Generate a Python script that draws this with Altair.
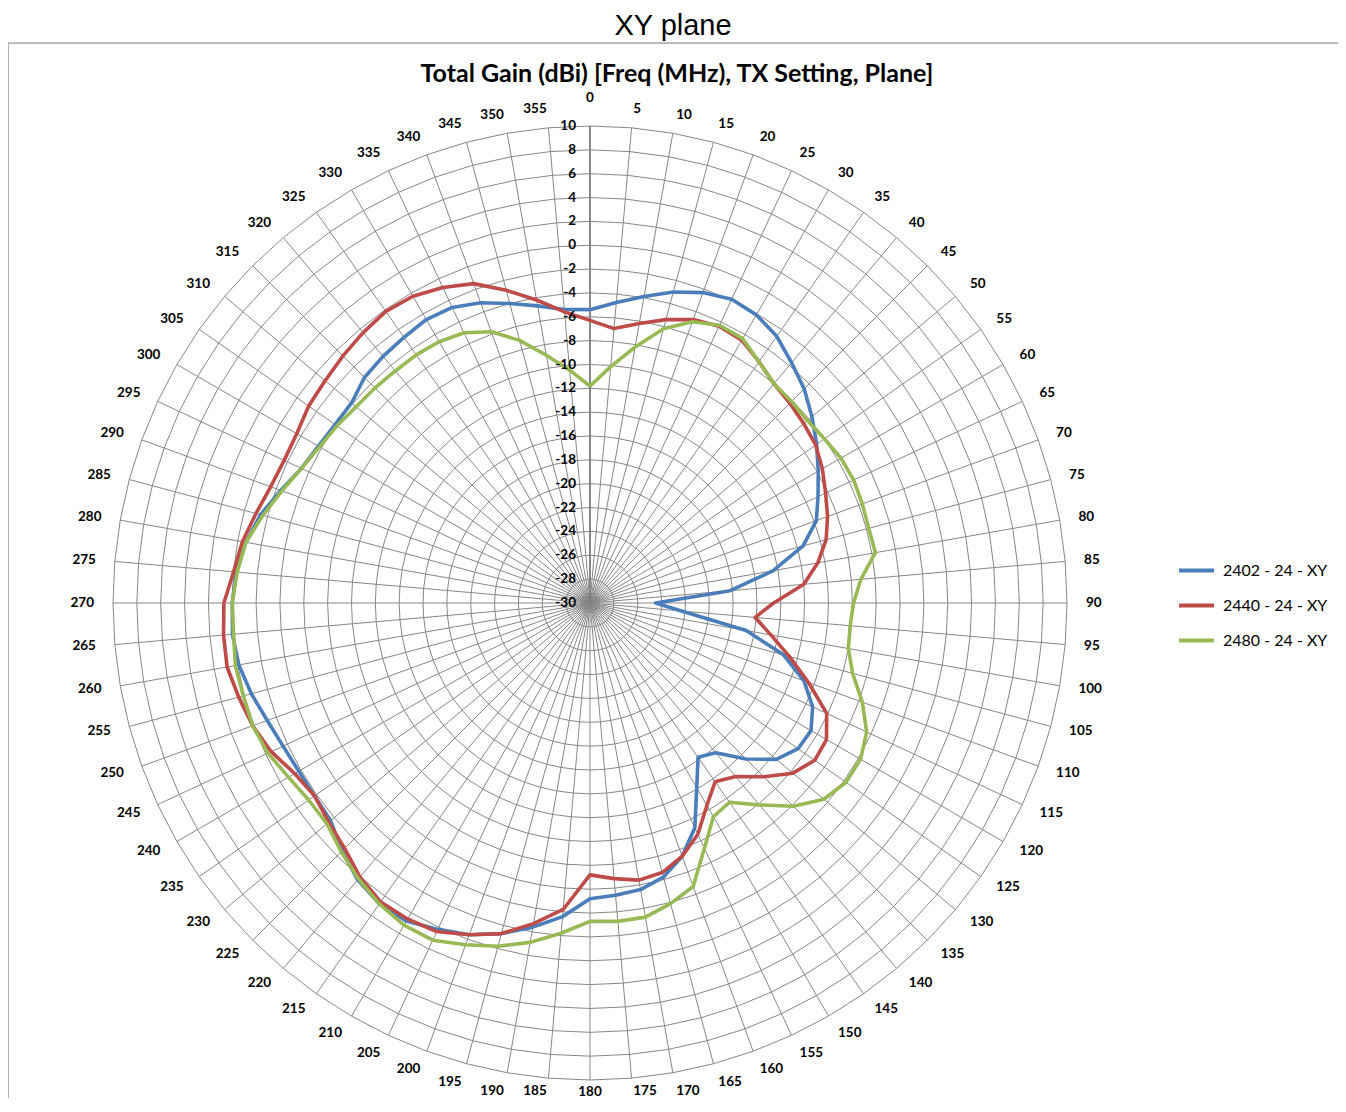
import altair as alt
import pandas as pd

# ---------------- data ----------------
angles = list(range(0, 360, 5))

gain_2402 = [-5.4, -4.7, -3.9, -3.0, -2.3, -1.9, -2.1, -2.7, -3.7, -4.6,
             -5.7, -6.8, -7.9, -8.9, -9.8, -11.5, -14.4, -18.2, -24.5, -22.3,
             -16.7, -13.2, -10.9, -9.4, -8.6, -8.7, -9.6, -11.5, -13.6, -14.2,
             -12.1, -9.2, -7.4, -6.2, -5.6, -5.4, -5.2, -3.6, -2.4, -1.3,
             -0.4, 0.2, 0.8, 0.8, 0.3, -0.6, -1.6, -1.8, -1.8, -1.6,
             -1.2, -0.6, -0.1, 0.1, 0.0, -0.2, -0.7, -1.4, -2.4, -3.3,
             -3.7, -3.9, -3.9, -3.25, -3.0, -2.8, -2.55, -2.65, -3.2, -4.0,
             -4.7, -5.3]

gain_2440 = [-6.3, -6.9, -6.2, -5.4, -4.7, -4.4, -4.55, -5.3, -6.0, -6.3,
             -6.6, -6.9, -7.5, -8.2, -8.8, -9.5, -10.6, -12.0, -14.6, -16.1,
             -14.6, -12.7, -10.5, -8.1, -7.1, -7.0, -7.8, -9.4, -11.0, -11.7,
             -10.4, -8.6, -7.4, -6.6, -6.4, -6.8, -7.2, -4.2, -2.7, -1.3,
             -0.4, 0.4, 0.6, 0.6, 0.0, -0.9, -1.4, -1.8, -1.4, -0.5,
             0.1, 0.5, 0.9, 0.85, 0.7, 0.0, -0.4, -1.0, -1.5, -1.7,
             -1.6, -1.2, -1.0, -0.7, -0.4, -0.15, -0.3, -0.8, -1.5, -2.85,
             -4.2, -5.5]

gain_2480 = [-11.8, -10.1, -8.2, -6.2, -4.9, -4.3, -4.4, -5.3, -6.0, -6.1,
             -6.2, -6.0, -5.7, -5.6, -5.7, -5.8, -5.7, -7.2, -7.9, -8.1,
             -8.0, -7.2, -5.7, -4.4, -3.8, -3.8, -4.4, -5.9, -7.9, -9.6,
             -9.3, -7.3, -4.7, -3.9, -3.25, -3.2, -3.3, -2.2, -1.1, -0.2,
             0.5, 1.2, 1.2, 0.8, 0.2, -0.5, -1.2, -1.2, -0.8, -0.2,
             0.1, 0.1, 0.2, 0.0, 0.0, -0.3, -0.7, -1.6, -2.5, -3.3,
             -3.8, -4.1, -4.4, -4.5, -4.6, -4.6, -4.7, -5.0, -5.8, -7.2,
             -8.9, -10.4]

series_names = ["2402 - 24 - XY", "2440 - 24 - XY", "2480 - 24 - XY"]
series_colors = ["#4A7EBB", "#BE4B48", "#98B954"]
ring_values = list(range(-30, 11, 2))
angle_labels = [str(a) for a in angles]
page_title = "XY plane"
chart_title = "Total Gain (dBi) [Freq (MHz), TX Setting, Plane]"
r_min, r_max = -30, 10

# ---------------- layout ----------------
W, H = 1330, 1055          # framed chart area (view)
PX = 11.925                # pixels per dB
CX, CY = 582, 560          # polar centre inside the view (pixels)
x_dom = [-CX / PX, (W - CX) / PX]
y_dom = [-(H - CY) / PX, CY / PX]
LABEL_R = 496 / PX         # anchor radius of the angle labels
FONT = "Lato"
GRID = "#878787"

# ---------------- tables ----------------
rows = []
for name, vals in zip(series_names, [gain_2402, gain_2440, gain_2480]):
    for a, v in zip(angles + [360], vals + [vals[0]]):
        rows.append({"series": name, "angle": a, "gain": v})
series_df = pd.DataFrame(rows)

ring_df = pd.DataFrame([{"ring": v, "angle": a}
                        for v in ring_values[1:] for a in angles + [360]])
spoke_df = pd.DataFrame({"angle": angles})
rlab_df = pd.DataFrame({"ring": ring_values, "label": [str(v) for v in ring_values]})
alab_df = pd.DataFrame({"angle": angles, "label": angle_labels})
title_df = pd.DataFrame({"t": [chart_title]})
ptitle_df = pd.DataFrame({"t": [page_title]})
frame_df = pd.DataFrame({"k": [0]})

xs = alt.Scale(domain=x_dom, zero=False, nice=False)
ys = alt.Scale(domain=y_dom, zero=False, nice=False)
X = lambda f: alt.X(f, type="quantitative", scale=xs, axis=None)
Y = lambda f: alt.Y(f, type="quantitative", scale=ys, axis=None)
RAD = "datum.angle*PI/180"

rings = alt.Chart(ring_df).transform_calculate(
    px=f"(datum.ring-({r_min}))*sin({RAD})",
    py=f"(datum.ring-({r_min}))*cos({RAD})",
).mark_line(color=GRID, strokeWidth=1).encode(
    x=X("px"), y=Y("py"), detail="ring:N", order="angle:Q")

spokes = alt.Chart(spoke_df).transform_calculate(
    x0="0", y0="0",
    px=f"{r_max - r_min}*sin({RAD})",
    py=f"{r_max - r_min}*cos({RAD})",
).mark_rule(color=GRID, strokeWidth=1).encode(
    x=X("x0"), y=Y("y0"), x2="px:Q", y2="py:Q")

axis_line = alt.Chart(frame_df).transform_calculate(
    x0="0", y0="0", y1=f"{r_max - r_min}",
).mark_rule(color="#7A7A7A", strokeWidth=1.6).encode(
    x=X("x0"), y=Y("y0"), y2="y1:Q")

rlabels = alt.Chart(rlab_df).transform_calculate(
    x0="0", py=f"datum.ring-({r_min})",
).mark_text(align="right", baseline="middle", dx=-14, font=FONT,
            fontWeight="bold", fontSize=13.5, color="#000000").encode(
    x=X("x0"), y=Y("py"), text="label:N")


def angle_layer(cond, **mk):
    return alt.Chart(alab_df).transform_filter(cond).transform_calculate(
        px=f"{LABEL_R}*sin({RAD})",
        py=f"{LABEL_R}*cos({RAD})",
    ).mark_text(font=FONT, fontWeight="bold", fontSize=13.5,
                color="#000000", **mk).encode(
        x=X("px"), y=Y("py"), text="label:N")


alab_right = angle_layer("datum.angle > 0 && datum.angle < 175",
                         align="left", baseline="middle")
alab_left = angle_layer("datum.angle > 185", align="right", baseline="middle")
alab_top = angle_layer("datum.angle == 0", align="center",
                       baseline="alphabetic", dy=-5)
alab_175 = angle_layer("datum.angle == 175", align="left",
                       baseline="middle", dy=-6)
alab_185 = angle_layer("datum.angle == 185", align="right",
                       baseline="middle", dy=-6)
alab_bottom = angle_layer("datum.angle == 180", align="center",
                          baseline="alphabetic", dy=-3)

lines = alt.Chart(series_df).transform_calculate(
    px=f"(datum.gain-({r_min}))*sin({RAD})",
    py=f"(datum.gain-({r_min}))*cos({RAD})",
).mark_line(strokeWidth=3.6, strokeJoin="round").encode(
    x=X("px"), y=Y("py"), order="angle:Q",
    color=alt.Color("series:N",
                    scale=alt.Scale(domain=series_names, range=series_colors),
                    legend=alt.Legend(title=None, orient="none",
                                      legendX=1169, legendY=508,
                                      symbolType="stroke", symbolSize=1225,
                                      symbolStrokeWidth=4, labelFont=FONT,
                                      labelFontSize=16, labelColor="#000000",
                                      labelOffset=7, rowPadding=7, padding=0)))

title_txt = alt.Chart(title_df).mark_text(
    font=FONT, fontWeight="bold", fontSize=25, align="center",
    baseline="middle", color="#000000").encode(
    x=alt.value(669), y=alt.value(31), text="t:N")

page_title_txt = alt.Chart(ptitle_df).mark_text(
    font="Liberation Sans", fontSize=29, align="center",
    baseline="alphabetic", color="#000000").encode(
    x=alt.value(665), y=alt.value(-8.5), text="t:N")

frame_top = alt.Chart(frame_df).mark_rule(color="#8C8C8C", strokeWidth=1).encode(
    x=alt.value(0), x2=alt.value(W), y=alt.value(0))
frame_left = alt.Chart(frame_df).mark_rule(color="#8C8C8C", strokeWidth=1).encode(
    x=alt.value(0), y=alt.value(0), y2=alt.value(H))

chart = alt.layer(
    rings, spokes, axis_line, lines, rlabels,
    alab_right, alab_left, alab_top, alab_175, alab_185, alab_bottom,
    title_txt, page_title_txt, frame_top, frame_left
).properties(
    width=W, height=H,
    autosize=alt.AutoSizeParams(type="none"),
    padding={"left": 0, "top": 35, "right": 0, "bottom": 0},
).configure_view(stroke=None).configure(background="white")

chart.save("out.html", embed_options={"renderer": "svg", "actions": False})
